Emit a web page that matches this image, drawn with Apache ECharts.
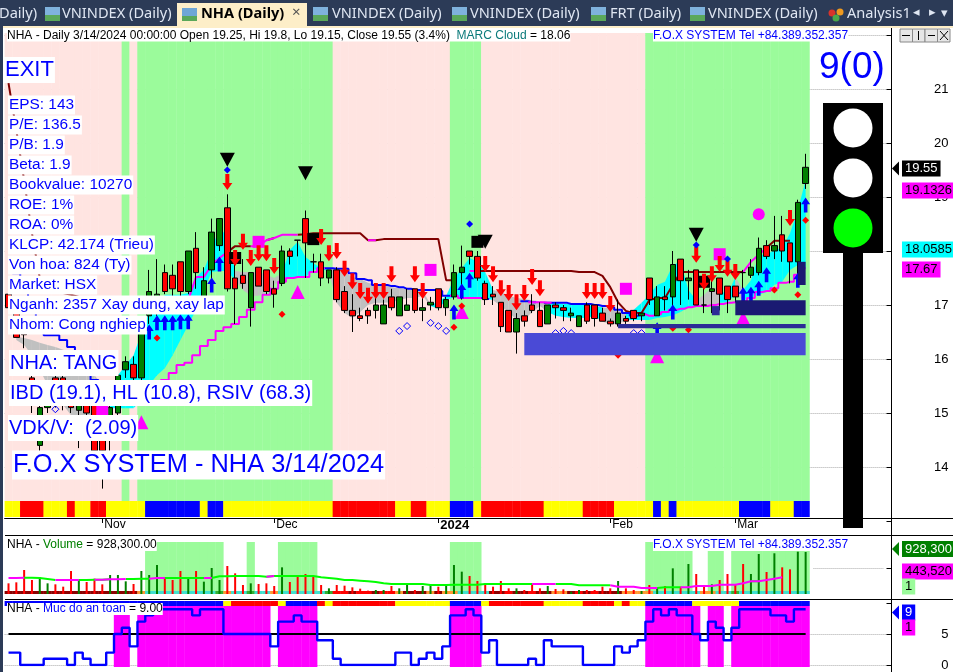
<!DOCTYPE html>
<html>
<head>
<meta charset="utf-8">
<title>NHA (Daily)</title>
<script src="https://cdn.jsdelivr.net/npm/echarts@6/dist/echarts.min.js"></script>
<style>
  html, body { margin: 0; padding: 0; background: #fff; }
  #chart { width: 953px; height: 672px; }
</style>
</head>
<body>
<div id="chart"></div>
<script>
const dates = [
  '2023-10-16', '2023-10-17', '2023-10-18', '2023-10-19', '2023-10-20', '2023-10-23', '2023-10-24', '2023-10-25', '2023-10-26', '2023-10-27', '2023-10-30', '2023-10-31',
  '2023-11-01', '2023-11-02', '2023-11-03', '2023-11-06', '2023-11-07', '2023-11-08', '2023-11-09', '2023-11-10', '2023-11-13', '2023-11-14', '2023-11-15', '2023-11-16', '2023-11-17', '2023-11-20', '2023-11-21', '2023-11-22', '2023-11-23', '2023-11-24', '2023-11-27', '2023-11-28', '2023-11-29', '2023-11-30',
  '2023-12-01', '2023-12-04', '2023-12-05', '2023-12-06', '2023-12-07', '2023-12-08', '2023-12-11', '2023-12-12', '2023-12-13', '2023-12-14', '2023-12-15', '2023-12-18', '2023-12-19', '2023-12-20', '2023-12-21', '2023-12-22', '2023-12-25', '2023-12-26', '2023-12-27', '2023-12-28', '2023-12-29',
  '2024-01-02', '2024-01-03', '2024-01-04', '2024-01-05', '2024-01-08', '2024-01-09', '2024-01-10', '2024-01-11', '2024-01-12', '2024-01-15', '2024-01-16', '2024-01-17', '2024-01-18', '2024-01-19', '2024-01-22', '2024-01-23', '2024-01-24', '2024-01-25', '2024-01-26', '2024-01-29', '2024-01-30', '2024-01-31',
  '2024-02-01', '2024-02-02', '2024-02-05', '2024-02-06', '2024-02-07', '2024-02-15', '2024-02-16', '2024-02-19', '2024-02-20', '2024-02-21', '2024-02-22', '2024-02-23', '2024-02-26', '2024-02-27', '2024-02-28', '2024-02-29',
  '2024-03-01', '2024-03-04', '2024-03-05', '2024-03-06', '2024-03-07', '2024-03-08', '2024-03-11', '2024-03-12', '2024-03-13', '2024-03-14',
];
const blankBars = ['', '', '', '', '', '', '', '', '', ''];
const monthLabels = {
  '2023-11-01': 'Nov', '2023-12-01': 'Dec', '2024-01-02': '{b|2024}', '2024-02-01': 'Feb', '2024-03-01': 'Mar',
};

// open, close, low, high
const candles = [
  [17.2, 16.95, 16.9, 17.4], [16.85, 16.4, 16.4, 17], [16.5, 16.45, 16.2, 16.55], [15.65, 15.2, 15, 15.7], [14.4, 15.1, 14.3, 15.6],
  [15.1, 15.15, 15, 15.4], [15.65, 15.2, 15.1, 15.7], [15.65, 15.25, 15.05, 15.7], [15.2, 15.1, 15, 15.6], [15.05, 15.2, 14.35, 15.5],
  [15.5, 15, 14.95, 15.55], [15.4, 14.3, 14.3, 15.45], [15.1, 14.3, 13.6, 15.15], [14.9, 15.1, 14.3, 15.2], [15, 15.7, 14.9, 15.75],
  [15.8, 15.95, 15.65, 16.05], [15.9, 15.65, 15.5, 16.05], [15.65, 16.5, 15.55, 16.55], [16.8, 17.25, 16.65, 17.65], [16.9, 17.2, 16.8, 17.85],
  [17.6, 17.25, 17.2, 17.75], [17.55, 17.3, 17.15, 17.75], [17.8, 17.25, 17.15, 17.8], [17.25, 18, 17.2, 18], [18.05, 17.6, 17.3, 18.35],
  [17.15, 17.45, 17.1, 17.7], [17.65, 18.35, 17.45, 18.6], [18.1, 18.6, 18, 18.6], [18.8, 17.3, 17.25, 19.05], [17.5, 17.3, 16.65, 18],
  [17.55, 17.4, 17.3, 17.85], [16.95, 17.6, 16.6, 17.6], [17.7, 17.35, 17.35, 17.7], [17.65, 17.25, 17.2, 17.65], [17.3, 17.2, 16.95, 17.45],
  [17.4, 18, 17.35, 18.1], [18, 17.9, 17.75, 18.05], [18.2, 18.2, 17.9, 18.2], [18.6, 18.15, 17.5, 18.75], [17.8, 17.8, 17.6, 17.95],
  [17.8, 17.5, 17.35, 17.95], [17.5, 17.65, 17.4, 17.65], [17.65, 17.1, 17.05, 17.7], [17.25, 16.9, 16.85, 17.35], [16.9, 16.8, 16.5, 17.2],
  [16.8, 16.75, 16.7, 16.95], [16.9, 16.8, 16.65, 16.95], [16.9, 17, 16.75, 17.2], [16.65, 17, 16.65, 17.1], [17.15, 16.95, 16.9, 17.3],
  [16.8, 17.15, 16.8, 17.15], [16.9, 17, 16.9, 17.3], [17.3, 16.9, 16.85, 17.3], [16.9, 16.95, 16.7, 17.15], [17, 17.05, 16.9, 17.15],
  [17.3, 16.95, 16.9, 17.3], [16.95, 17.1, 16.8, 17.15], [17.15, 17.6, 17.1, 17.75], [17.6, 17.7, 17.1, 18.1], [18, 17.9, 17.75, 18],
  [17.9, 17.5, 17.45, 18], [17.4, 17.1, 17, 17.45], [17.2, 17.15, 17, 17.35], [17.05, 16.6, 16.5, 17.05], [16.9, 16.5, 16.5, 16.9],
  [16.5, 16.75, 16.1, 16.85], [16.8, 16.7, 16.6, 16.9], [17, 16.9, 16.85, 17.2], [16.9, 16.6, 16.6, 17.05], [16.65, 17, 16.65, 17],
  [17, 16.95, 16.75, 17.05], [16.95, 16.9, 16.7, 17], [16.8, 16.85, 16.7, 16.95], [16.6, 16.8, 16.6, 16.8], [17, 16.7, 16.65, 17.05],
  [17, 16.75, 16.6, 17], [16.85, 16.7, 16.7, 16.95], [16.7, 16.65, 16.6, 16.75], [16.65, 16.85, 16.6, 17.1], [16.75, 16.7, 16.65, 16.8],
  [16.9, 16.75, 16.7, 16.9], [16.8, 16.85, 16.7, 16.85], [17.5, 17.1, 17, 17.5], [16.8, 17.15, 16.8, 17.35], [17.15, 17.1, 16.9, 17.35],
  [17.15, 17.75, 16.9, 18], [17.85, 17.45, 17, 17.85], [17.45, 17.5, 17.1, 17.65], [17.65, 17, 17, 17.65], [17, 17, 16.85, 17.5],
  [17.25, 17.3, 16.85, 17.45], [17.5, 17.2, 16.9, 17.5], [17.35, 17.1, 16.85, 17.35], [17.35, 17.15, 17.05, 17.35], [17.6, 17.6, 17.05, 17.65],
  [17.55, 17.7, 17.5, 17.85], [17.6, 18.05, 17.55, 18.25], [18.1, 17.9, 17.85, 18.2], [18, 18.1, 17.85, 18.65], [18.3, 18, 17.8, 18.65],
  [18.15, 17.8, 17.4, 18.15], [17.8, 18.9, 17.4, 18.95], [19.25, 19.55, 19.15, 19.8],
];

const volumes = [
  235800, 257800, 530400, 309400, 368400, 235800, 213600, 162000, 508300, 324100,
  265200, 338900, 213600, 419900, 419900, 279900, 221000, 508300, 419900, 640900,
  368400, 309400, 508300, 368400, 508300, 272600, 574600, 309400, 618800, 456800,
  198900, 235800, 221000, 235800, 176800, 589400, 265200, 419900, 442000, 397800,
  198900, 125200, 198900, 184200, 147300, 117900, 73700, 88400, 88400, 176800,
  125200, 198900, 88400, 176800, 198900, 162100, 198900, 640900, 493600, 397800,
  287300, 235800, 162100, 287300, 125200, 125200, 88400, 235800, 125200, 176800,
  110500, 103100, 51600, 88400, 88400, 88400, 162100, 125200, 287300, 125200,
  88400, 66300, 198900, 140000, 176800, 567300, 162100, 663000, 442000, 162100,
  213600, 309400, 442000, 221000, 663000, 442000, 884000, 486200, 900000, 589400,
  545200, 935000, 928300,
];
const volumeAverage = [
  353600, 353600, 361000, 361000, 353600, 331500, 309400, 309400, 309400, 309400,
  309400, 316800, 316800, 324100, 324100, 331500, 331500, 338900, 338900, 353600,
  353600, 353600, 353600, 353600, 353600, 353600, 353600, 390500, 390500, 397800,
  397800, 397800, 397800, 383100, 397800, 397800, 397800, 397800, 397800, 397800,
  368400, 353600, 338900, 309400, 309400, 294700, 279900, 265200, 235700, 221000,
  221000, 221000, 221000, 221000, 198900, 198900, 198900, 206300, 206300, 206300,
  206300, 221000, 221000, 221000, 221000, 221000, 221000, 221000, 221000, 221000,
  221000, 221000, 221000, 191500, 191500, 191500, 191500, 191500, 162100, 162100,
  162100, 132600, 132600, 132600, 147300, 147300, 147300, 147300, 176800, 176800,
  176800, 206300, 206300, 206300, 235700, 279900, 279900, 309400, 338900, 368400,
  397800, 442000, 443520,
];

const safetyLevel = [
  2, 2, 0, 0, 0, 1, 1, 1, 0, 2,
  1, 0, 0, 2, 5, 6, 3, 7, 8, 9,
  9, 9, 9, 9, 8, 9, 9, 9, 5, 5,
  5, 5, 5, 5, 3, 7, 7, 8, 7, 7,
  4, 4, 1, 0, 0, 0, 0, 0, 0, 0,
  2, 2, 0, 1, 2, 1, 3, 8, 8, 9,
  8, 2, 4, 0, 0, 0, 0, 1, 0, 4,
  3, 3, 3, 3, 0, 0, 0, 0, 3, 2,
  3, 4, 7, 9, 8, 9, 8, 8, 5, 4,
  7, 6, 4, 6, 9, 9, 9, 9, 8, 8,
  7, 9, 9,
];
const safetyThreshold = dates.map(() => 5);

const trailLine = [
  21.11, 20.24, 19.31, 18.33, 17.5, 17.37, 17.28, 17.22, 17.19, 17.15,
  17.09, 17.05, 17, 16.96, 16.91, 16.87, 16.85, 16.85, 16.91, 16.94,
  16.98, 17.02, 17.05, 17.09, 17.52, 17.52, 17.74, 17.87, 17.98, 18.09,
  18.09, 18.09, 18.09, 18.2, 18.24, 18.3, 18.3, 18.3, 18.31, 18.33,
  18.33, 18.33, 18.33, 18.33, 18.33, 18.33, 18.2, 18.2, 18.22, 18.22,
  18.22, 18.22, 18.22, 18.22, 18.22, 18.22, 17.46, 17.46, 17.63, 17.63,
  17.63, 17.63, 17.63, 17.63, 17.63, 17.63, 17.63, 17.63, 17.63, 17.63,
  17.63, 17.63, 17.63, 17.61, 17.61, 17.61, 17.54, 17.33, 17.05, 16.89,
  16.85, 16.85, 17.09, 17.13, 17.13, 17.37, 17.61, 17.61, 17.61, 17.61,
  17.61, 17.61, 17.61, 17.61, 17.61, 17.8, 17.93, 18.06, 18.19, 18.19,
  18.19, null, null,
];
const trailCodes = 'D'.repeat(24) + 'MMMMM' + 'DDD' + 'MM' + 'D' + 'MMM' + 'D'.repeat(9) + 'M' + 'D'.repeat(10) + '  M' + 'D'.repeat(34) + 'MMM' + 'DDD  ';
const bandLine = [
  17.87, 17.59, 17.22, 16.85, 16.54, 16.44, 16.44, 16.35, 16.22, 15.98,
  15.8, 15.61, 15.43, 15.33, 15.28, 15.28, 15.33, 15.39, 15.43, 15.46,
  15.61, 15.74, 15.89, 15.93, 16.07, 16.24, 16.35, 16.52, 16.59, 16.65,
  16.78, 16.91, 17.05, 17.19, 17.3, 17.43, 17.5, 17.52, 17.52, 17.61,
  17.68, 17.68, 17.67, 17.67, 17.59, 17.48, 17.46, 17.37, 17.37, 17.35,
  17.33, 17.3, 17.28, 17.28, 17.28, 17.26, 17.17, 17.17, 17.13, 17.13,
  17.13, 17.11, 17.09, 17.09, 17.09, 17.07, 17.07, 17.05, 17.05, 17.04,
  17.04, 17.04, 17.02, 17.02, 17.02, 17, 16.98, 16.96, 16.91, 16.85,
  16.8, 16.83, 16.8, 16.83, 16.87, 16.91, 16.93, 16.96, 16.98, 16.98,
  17, 17.02, 17.04, 17.05, 17.07, 17.13, 17.24, 17.26, 17.31, 17.41,
  17.43, 17.56, 17.68,
];
const bandCodes = 'B'.repeat(14) + 'M'.repeat(27) + 'B'.repeat(17) + 'MMM' + 'B' + '     ' + 'B' + 'MM' + 'B'.repeat(12) + 'M'.repeat(21);
const volumeAverageCodes = 'G' + 'MM' + 'GGGG' + 'MMM' + 'GG' + 'M' + 'G' + 'MM' + 'GGG' + 'MM' + 'G'.repeat(5) + 'M' + 'G'.repeat(7) + 'M' + 'G'.repeat(33) + 'MMM' + 'G'.repeat(7) + 'MMMMMM' + 'GGG' + 'M'.repeat(9) + 'G' + 'M'.repeat(3);

// upper and lower edge of the cloud, null where there is none
const cloudHigh = [
  null, 16.41, 16.39, 16.35, 16.3, 16.26, 16.22, 16.17, 16.13, 15.98,
  15.89, 15.7, 15.52, 15.24, 15.7, 15.89, 16.07, 16.48, 16.87, 16.87,
  17.19, 17.19, 17.19, 17.22, 17.52, 17.65, 18.02, 18.44, 18.26, 17.63,
  17.61, 17.61, 17.61, 17.56, 17.5, 17.59, 18.02, 18.17, 17.89, 17.78,
  17.68, 17.68, 17.65, 17.61, 17.52, 17.48, 17.41, 17.37, 17.37, 17.33,
  17.31, 17.3, 17.28, 17.26, 17.02, 17.04, 17.17, 17.48, 17.68, 17.87,
  17.8, 17.61, 17.28, 17.24, 17.17, 17.13, 17.11, 17.09, 17.07, 17.04,
  17.04, 17.02, 17.02, 17, 17, 16.98, 16.96, 16.94, 16.91, 16.87,
  16.91, 17.04, 17.19, 17.37, 17.43, 17.74, 17.8, 17.28, 17.09, 17.19,
  17.33, 17.28, 17.19, 17.52, 17.28, 17.46, 17.93, 17.93, 18.02, 18.06,
  18.33, 18.76, 19.31,
];
const cloudLow = [
  null, 16.35, 16.26, 16.07, 15.8, 15.52, 15.33, 15.15, 14.96, 14.87,
  14.87, 14.96, 15.06, 15.09, 15.09, 15.09, 15.09, 15.24, 15.52, 15.7,
  15.83, 16.07, 16.35, 16.63, 16.91, 17.28, 17.61, 17.63, 17.63, 17.46,
  17.28, 17.17, 17.17, 17.24, 17.37, 17.5, 17.52, 17.52, 17.52, 17.65,
  17.68, 17.61, 17.04, 16.85, 16.76, 16.87, 17, 17.04, 17.04, 17.05,
  17.09, 17.13, 17.13, 17.17, 16.98, 16.93, 17.09, 17.15, 17.15, 17.15,
  17.13, 17.13, 17.09, 16.98, 16.87, 16.72, 16.72, 16.87, 16.98, 16.87,
  16.8, 16.78, 16.76, 16.76, 16.76, 16.8, 16.69, 16.65, 16.65, 16.72,
  16.72, 16.72, 16.72, 16.76, 16.78, 16.81, 16.87, 16.96, 16.98, 16.98,
  17, 17.04, 17.05, 17.19, 17.09, 17.13, 17.19, 17.24, 17.37, 17.43,
  17.65, 17.74, 17.68,
];
const cloudCodes = ' ' + 'G'.repeat(12) + 'C'.repeat(16) + 'G'.repeat(6) + 'C'.repeat(6) + 'G'.repeat(13) + 'C'.repeat(8) + 'G'.repeat(7) + 'C'.repeat(7) + 'GGG' + 'C'.repeat(9) + 'GGG' + 'CC' + 'G' + 'C'.repeat(9);

const zoneCodes = 'P'.repeat(15) + 'G' + 'P' + 'G'.repeat(25) + 'P'.repeat(15) + 'G'.repeat(4) + 'P'.repeat(21) + 'G'.repeat(21);
const ribbonCodes = ['YY', 'RRR', 'YYY', 'R', 'YY', 'RR', 'YYYYY', 'BBBBBBB', 'Y', 'BB', 'YYYYYYYYYYYYYY', 'RRRRRRRR', 'YY', 'RR', 'YYY', 'BBB', 'Y', 'RRRRRRRR', 'YYYYY', 'RRRR', 'YYYYY', 'B', 'Y', 'B', 'YYYYYYYY', 'BBBB', 'YYY', 'BB'].join('');
const volumeZoneCodes = ' '.repeat(18) + 'G'.repeat(10) + '   ' + 'G' + '   ' + 'G'.repeat(5) + ' '.repeat(17) + 'G'.repeat(4) + ' '.repeat(21) + 'G'.repeat(6) + '  ' + 'GG' + ' ' + 'G'.repeat(10);
const volumeStripCodes = 'D'.repeat(17) + 'O' + 'T'.repeat(9) + 'GOTTGTTO' + 'TTTTT' + 'TG' + 'RRDRRDRR' + 'ODDDODOO' + 'TTTT' + 'DDRDDRDD' + 'OO' + 'DRDRDDD' + 'OOOO' + 'TTTTTT' + 'OOTTG' + 'T'.repeat(9);
const safetyZoneCodes = ' '.repeat(14) + 'MM' + ' ' + 'M'.repeat(17) + ' ' + 'M'.repeat(5) + ' '.repeat(17) + 'M'.repeat(4) + ' '.repeat(21) + 'M'.repeat(7) + ' ' + 'MM' + ' ' + 'M'.repeat(10);
const safetyRibbonCodes = ['B'.repeat(28), 'Y', 'RRRRRR', 'Y', 'BBBB', 'R', 'Y', 'RRRRRRRR', 'YYYYYYY', 'BBBB', 'Y', 'RRRRRRR', 'YYYYY', 'RRRR', 'Y', 'R', 'YY', 'BBBBBB', 'YYYYYY', 'B'.repeat(9)].join('');

// bar index, price
const blackTriangles = [[28, 19.69], [38, 19.44], [61, 18.17], [88, 18.3]];
const blackSquares = [[29, 17.87], [39, 18.22], [60, 18.17], [89, 17.43]];
const magentaSquares = [[12, 15.05], [32, 18.17], [54, 17.65], [79, 17.3], [91, 17.94]];
const magentaTriangles = [[17, 14.83], [37, 17.24], [58, 16.87], [83, 16.05], [94, 16.76]];
const magentaCircles = [[96, 18.68]];
const sellArrows = [
  [28, 19.28], [29, 17.87], [30, 18.17], [31, 17.87], [32, 17.96], [33, 17.96], [34, 17.72], [40, 18.26], [41, 17.96], [42, 18],
  [43, 17.67], [44, 17.44], [45, 17.26], [46, 17.17], [47, 17.26], [48, 17.26], [49, 17.57], [52, 17.57], [53, 17.26], [61, 17.76],
  [62, 17.57], [63, 17.31], [64, 17.22], [65, 17.05], [66, 17.22], [67, 17.52], [68, 17.31], [74, 17.26], [75, 17.26], [76, 17.26],
  [77, 17.02], [88, 17.93], [89, 17.43], [90, 17.57], [91, 17.76], [92, 17.67], [93, 17.61], [100, 18.61],
];
const buyArrows = [
  [18, 16.5], [19, 16.67], [20, 16.67], [21, 16.67], [22, 16.69], [23, 16.69], [26, 17.37], [27, 17.76], [57, 16.87], [58, 17.26],
  [59, 17.46], [83, 16.54], [85, 16.87], [94, 17.19], [95, 17.2], [96, 17.31], [97, 17.56], [101, 17.46], [102, 18.85],
];
const blueDots = [[28, 19.5], [59, 18.5], [88, 18.11], [92, 17.85]];
const redDots = [[19, 16.39], [35, 16.83], [57, 16.59], [58, 16.98], [78, 16.07], [85, 16.57], [87, 16.54], [98, 17.28], [101, 17.19], [102, 18.57]];
const hollowDots = [[6, 15.07], [50, 16.52], [51, 16.61], [54, 16.67], [55, 16.61], [56, 16.52], [70, 16.48], [71, 16.52], [72, 16.48], [80, 16.48], [81, 16.48]];

// first bar, last bar, top price, bottom price
const supplyBoxes = [[66, 102, 16.48, 16.07], [78, 102, 16.65, 16.57], [93, 102, 17.09, 16.81], [90, 91, 16.98, 16.81], [101, 102, 17.8, 17.37]];
const supplyBoxColors = ['#4a4ad6', '#2c2c96', '#1a1a72', '#2c2c96', '#1a1a72'];

const infoLines = ['EPS: 143', 'P/E: 136.5', 'P/B: 1.9', 'Beta: 1.9', 'Bookvalue: 10270', 'ROE: 1%', 'ROA: 0%', 'KLCP: 42.174 (Trieu)', 'Von hoa: 824 (Ty)', 'Market: HSX', 'Nganh: 2357 Xay dung, xay lap', 'Nhom: Cong nghiep'];
const tabTitles = [[62, 'VNINDEX (Daily)'], [332, 'VNINDEX (Daily)'], [470, 'VNINDEX (Daily)'], [610, 'FRT (Daily)'], [708, 'VNINDEX (Daily)']];
const tabIcons = [45, 313, 452, 591, 690];

const FONT = '"Liberation Sans", Arial, sans-serif';
const GRID_LEFT = 4.6;
const GRID_WIDTH = 883.1;
const AXIS_OFFSET = 3.8;
const categories = dates.concat(blankBars);

function pick(values, codes, code) {
  return values.map((value, i) => ((codes[i] === code || codes[i + 1] === code) ? value : null));
}

function buildGrid(top, height) {
  return {
    left: GRID_LEFT, top, width: GRID_WIDTH, height,
  };
}

function hiddenX(gridIndex) {
  return {
    type: 'category', gridIndex, data: categories, show: false,
  };
}

function hiddenY(gridIndex) {
  return {
    type: 'value', gridIndex, min: 0, max: 1, show: false,
  };
}

function stripSeries(axisIndex, codes, palette) {
  return {
    type: 'bar',
    xAxisIndex: axisIndex,
    yAxisIndex: axisIndex,
    barWidth: 8.2,
    silent: true,
    z: 1,
    data: codes.split('').map((code) => ({
      value: code === ' ' ? null : 1,
      itemStyle: { color: palette[code] },
    })),
  };
}

function lineSeries(axisIndex, data, color, width, z, step) {
  return {
    type: 'line',
    xAxisIndex: axisIndex,
    yAxisIndex: axisIndex,
    data,
    step: step ? 'middle' : false,
    symbol: 'none',
    silent: true,
    z,
    lineStyle: { color, width },
  };
}

function markerSeries(data, symbol, size, color, extra) {
  return {
    type: 'scatter',
    xAxisIndex: 2,
    yAxisIndex: 2,
    data,
    symbol,
    symbolSize: size,
    silent: true,
    z: 7,
    itemStyle: { color, opacity: 1 },
    ...extra,
  };
}

function renderCloud(params, api) {
  const i = params.dataIndex;
  if (cloudHigh[i] === null || cloudHigh[i + 1] === undefined || cloudHigh[i + 1] === null) {
    return null;
  }
  const points = [
    api.coord([i, cloudHigh[i]]),
    api.coord([i + 1, cloudHigh[i + 1]]),
    api.coord([i + 1, cloudLow[i + 1]]),
    api.coord([i, cloudLow[i]]),
  ];
  return {
    type: 'polygon',
    shape: { points },
    style: { fill: cloudCodes[i] === 'C' ? '#00ffff' : '#c0c0c0' },
  };
}

function renderBox(params, api) {
  const topLeft = api.coord([api.value(0), api.value(2)]);
  const bottomRight = api.coord([api.value(1), api.value(3)]);
  return {
    type: 'rect',
    shape: {
      x: topLeft[0],
      y: topLeft[1],
      width: bottomRight[0] - topLeft[0],
      height: bottomRight[1] - topLeft[1],
    },
    style: { fill: supplyBoxColors[params.dataIndex] },
  };
}

function textItem(text, x, y, font, fill, extra) {
  return {
    type: 'text',
    z: 100,
    silent: true,
    style: {
      text, x, y, font, fill, verticalAlign: 'middle', ...extra,
    },
  };
}

function whiteLabel(text, x, y, size, pad) {
  return textItem(text, x, y, `${size}px ${FONT}`, '#0000ff', { backgroundColor: '#fff', padding: [pad, 1, pad, 1] });
}

function tag(text, x, y, background, fill, arrow) {
  const items = [textItem(text, x + 3, y, `13px ${FONT}`, fill, { backgroundColor: background, padding: [2, 3, 1, 3] })];
  if (arrow) {
    items.push({
      type: 'polygon',
      z: 100,
      silent: true,
      shape: { points: [[x - 7, y], [x, y - 7], [x, y + 7]] },
      style: { fill: background },
    });
  }
  return items;
}

function rectItem(x, y, width, height, fill, z) {
  return {
    type: 'rect', z: z || 100, silent: true, shape: { x, y, width, height }, style: { fill },
  };
}

function lineItem(x1, y1, x2, y2) {
  return {
    type: 'line',
    z: 50,
    silent: true,
    shape: { x1, y1, x2, y2 },
    style: { stroke: '#000', lineWidth: 1 },
  };
}

function circleItem(cx, cy, fill) {
  return {
    type: 'circle', z: 101, silent: true, shape: { cx, cy, r: 19.5 }, style: { fill },
  };
}

function buildTabBar() {
  const items = [
    rectItem(0, 0, 953, 26, '#2c3b57', 90),
    rectItem(0, 26, 953, 2, '#fdeec8', 90),
    rectItem(0, 26, 3, 646, '#2c3b57', 90),
    rectItem(177, 3, 130, 25, '#fdeec8', 91),
    textItem('Daily)', -1, 14, '14.6px "Noto Sans"', '#dfe6f2'),
    textItem('NHA (Daily)', 201, 14, 'bold 14.6px "Noto Sans"', '#000'),
    textItem('×', 292, 13, '15px "Noto Sans"', '#555'),
    textItem('Analysis1', 847, 14, '14.6px "Noto Sans"', '#dfe6f2'),
    textItem('◂', 913, 13, '13px "DejaVu Sans"', '#dfe6f2'),
    textItem('▸', 929, 13, '13px "DejaVu Sans"', '#dfe6f2'),
    textItem('▾', 941, 14, '13px "DejaVu Sans"', '#dfe6f2'),
    rectItem(182, 8, 15, 13, '#6fa6d6', 101),
    rectItem(182, 16, 15, 5, '#5aa85a', 102),
    {
      type: 'circle', z: 101, silent: true, shape: { cx: 832, cy: 13, r: 3.5 }, style: { fill: '#d9342b' },
    },
    {
      type: 'circle', z: 101, silent: true, shape: { cx: 840, cy: 12, r: 3.5 }, style: { fill: '#f09a1f' },
    },
    {
      type: 'circle', z: 101, silent: true, shape: { cx: 836, cy: 18, r: 3.5 }, style: { fill: '#4aa84a' },
    },
  ];
  tabTitles.forEach(([x, title]) => {
    items.push(textItem(title, x, 14, '14.6px "Noto Sans"', '#dfe6f2'));
  });
  tabIcons.forEach((x) => {
    items.push(rectItem(x, 7, 15, 14, '#7fb2dd', 101));
    items.push(rectItem(x, 15, 15, 6, '#5aa85a', 102));
  });
  return items;
}

function buildWindowButtons() {
  const items = [];
  [900, 912.5, 925, 937.5].forEach((x) => {
    items.push({
      type: 'rect',
      z: 100,
      silent: true,
      shape: {
        x, y: 29, width: 12.5, height: 13,
      },
      style: { fill: '#e6e6e6', stroke: '#888', lineWidth: 1 },
    });
  });
  items.push(lineItem(902, 35.5, 910, 35.5));
  items.push(lineItem(918.5, 31, 918.5, 40));
  items.push(lineItem(928, 35.5, 935, 35.5));
  items.push(lineItem(940, 31, 948, 40));
  items.push(lineItem(948, 31, 940, 40));
  items.slice(-5).forEach((item) => { item.z = 101; });
  return items;
}

function buildGraphics() {
  const infoItems = infoLines.map((text, i) => whiteLabel(text, 8, 105 + i * 20, 15.4, 2));
  return [
    lineItem(5, 518.5, 953, 518.5),
    lineItem(5, 535.5, 953, 535.5),
    lineItem(5, 599.5, 953, 599.5),
    lineItem(891.5, 28, 891.5, 672),
    ...buildTabBar(),
    ...buildWindowButtons(),
    {
      type: 'text',
      z: 100,
      silent: true,
      style: {
        x: 7,
        y: 35.5,
        verticalAlign: 'middle',
        backgroundColor: '#fff',
        text: '{a|NHA - Daily 3/14/2024 00:00:00 Open 19.25, Hi 19.8, Lo 19.15, Close 19.55 (3.4%)}  {b|MARC Cloud} {a|= 18.06}',
        rich: {
          a: { font: `12px ${FONT}`, fill: '#000' },
          b: { font: `12px ${FONT}`, fill: '#0a7a7a' },
        },
      },
    },
    textItem('F.O.X SYSTEM Tel +84.389.352.357', 653, 35.5, `12px ${FONT}`, '#0000ff', { backgroundColor: '#fff' }),
    whiteLabel('EXIT', 4, 70, 22, 2),
    ...infoItems,
    whiteLabel('NHA: TANG', 9, 363, 20, 3),
    whiteLabel('IBD (19.1), HL (10.8), RSIV (68.3)', 9, 393, 20, 3),
    whiteLabel('VDK/V:  (2.09)', 8, 428, 20, 3),
    whiteLabel('F.O.X SYSTEM - NHA 3/14/2024', 12, 465, 25.4, 2),
    textItem('9(0)', 819, 68, `37px ${FONT}`, '#0000ff'),
    rectItem(823, 103, 60, 150, '#000'),
    rectItem(843, 253, 20, 275, '#000'),
    circleItem(853, 128, '#fff'),
    circleItem(853, 178, '#fff'),
    circleItem(853, 228, '#00ff00'),
    ...tag('19.55', 899, 168.5, '#000', '#fff', true),
    ...tag('19.1326', 899, 190.5, '#ff00ff', '#000'),
    ...tag('18.0585', 899, 249.5, '#00ffff', '#000'),
    ...tag('17.67', 899, 269.5, '#ff00ff', '#000'),
    ...tag('928,300', 899, 549, '#008000', '#fff', true),
    ...tag('443,520', 899, 571.5, '#ff00ff', '#000'),
    ...tag('1', 899, 586.5, '#9bfb9b', '#000'),
    ...tag('9', 899, 612.5, '#0000ff', '#fff', true),
    ...tag('1', 899, 627.5, '#ff00ff', '#000'),
    {
      type: 'text',
      z: 100,
      silent: true,
      style: {
        x: 7,
        y: 545,
        verticalAlign: 'middle',
        backgroundColor: '#fff',
        text: '{a|NHA - }{g|Volume}{a| = 928,300.00}',
        rich: {
          a: { font: `12px ${FONT}`, fill: '#000' },
          g: { font: `12px ${FONT}`, fill: '#008000' },
        },
      },
    },
    textItem('F.O.X SYSTEM Tel +84.389.352.357', 653, 545, `12px ${FONT}`, '#0000ff', { backgroundColor: '#fff' }),
    {
      type: 'text',
      z: 100,
      silent: true,
      style: {
        x: 7,
        y: 609,
        verticalAlign: 'middle',
        backgroundColor: '#fff',
        text: '{a|NHA - }{g|Muc do an toan}{a| = 9.00}',
        rich: {
          a: { font: `12px ${FONT}`, fill: '#000' },
          g: { font: `12px ${FONT}`, fill: '#0000ff' },
        },
      },
    },
  ];
}

const zonePalette = { P: '#ffe4e1', G: '#9bfb9b' };
const ribbonPalette = { Y: '#ffff00', R: '#ff0000', B: '#0000ff' };
const stripPalette = {
  D: '#8b0000', O: '#ff9933', T: '#40e0d0', G: '#33b033', R: '#ff0000',
};
const dottedSplit = { show: true, lineStyle: { color: '#aaa', type: 'dotted', width: 1 } };

const option = {
  animation: false,
  backgroundColor: '#fff',
  grid: [
    buildGrid(33, 468),
    buildGrid(501, 17),
    buildGrid(35, 486),
    buildGrid(542, 52),
    buildGrid(536, 58),
    buildGrid(591, 3),
    buildGrid(601, 5),
    buildGrid(606, 61),
    buildGrid(603, 62),
  ],
  xAxis: [
    hiddenX(0),
    {
      type: 'category',
      gridIndex: 1,
      data: categories,
      z: 60,
      axisLine: { show: true, onZero: false, lineStyle: { color: '#000' } },
      axisTick: {
        show: true,
        alignWithLabel: true,
        length: 5,
        lineStyle: { color: '#000' },
        interval: (index, value) => Boolean(monthLabels[value]),
      },
      axisLabel: {
        interval: (index, value) => Boolean(monthLabels[value]),
        formatter: (value) => monthLabels[value],
        align: 'left',
        margin: 1,
        padding: [0, 0, 0, 2],
        color: '#000',
        fontFamily: FONT,
        fontSize: 12,
        rich: { b: { fontWeight: 'bold', fontFamily: FONT, fontSize: 13, color: '#000' } },
      },
    },
    hiddenX(2), hiddenX(3), hiddenX(4), hiddenX(5), hiddenX(6), hiddenX(7), hiddenX(8),
  ],
  yAxis: [
    hiddenY(0),
    {
      type: 'value', gridIndex: 1, min: -0.06, max: 1, show: false,
    },
    {
      type: 'value',
      gridIndex: 2,
      position: 'right',
      offset: AXIS_OFFSET,
      min: 13,
      max: 22,
      interval: 1,
      axisLine: { show: false },
      axisTick: { show: true, inside: true, length: 5, lineStyle: { color: '#000' } },
      axisLabel: {
        align: 'right',
        margin: 57,
        color: '#000',
        fontFamily: FONT,
        fontSize: 13,
        formatter: (value) => ((value === 13 || value === 22) ? '' : String(value)),
      },
      splitLine: { ...dottedSplit, showMinLine: false },
    },
    hiddenY(3),
    {
      type: 'value',
      gridIndex: 4,
      position: 'right',
      offset: AXIS_OFFSET,
      min: 0,
      max: 1282000,
      axisLine: { show: false },
      axisLabel: { show: false },
      axisTick: {
        show: true, inside: true, length: 5, customValues: [570000], lineStyle: { color: '#000' },
      },
      splitLine: { show: false },
    },
    hiddenY(5),
    hiddenY(6),
    hiddenY(7),
    {
      type: 'value',
      gridIndex: 8,
      position: 'right',
      offset: AXIS_OFFSET,
      min: 0,
      max: 10,
      interval: 5,
      axisLine: { show: false },
      axisTick: { show: true, inside: true, length: 5, lineStyle: { color: '#000' } },
      axisLabel: {
        align: 'right',
        margin: 57,
        color: '#000',
        fontFamily: FONT,
        fontSize: 13,
        formatter: (value) => (value === 10 ? '' : String(value)),
      },
      splitLine: { ...dottedSplit, showMaxLine: false },
    },
  ],
  graphic: { elements: buildGraphics() },
  series: [
    stripSeries(0, zoneCodes, zonePalette),
    stripSeries(1, ribbonCodes, ribbonPalette),
    stripSeries(3, volumeZoneCodes, zonePalette),
    stripSeries(6, safetyRibbonCodes, ribbonPalette),
    stripSeries(7, safetyZoneCodes, { M: '#ff00ff' }),
    {
      type: 'custom',
      xAxisIndex: 2,
      yAxisIndex: 2,
      data: cloudHigh.map((value, i) => [i, value === null ? 17 : value]),
      encode: { x: 0, y: 1 },
      renderItem: renderCloud,
      silent: true,
      z: 3,
    },
    lineSeries(2, pick(trailLine, trailCodes, 'D'), '#800000', 2, 4),
    lineSeries(2, pick(trailLine, trailCodes, 'M'), '#ff00ff', 2, 4),
    lineSeries(2, pick(bandLine, bandCodes, 'B'), '#0000ff', 2, 4, true),
    lineSeries(2, pick(bandLine, bandCodes, 'M'), '#ff00ff', 2, 4, true),
    {
      type: 'candlestick',
      xAxisIndex: 2,
      yAxisIndex: 2,
      data: candles,
      barWidth: 6,
      silent: true,
      z: 5,
      itemStyle: {
        color: '#008000',
        color0: '#ff0000',
        borderColor: '#000',
        borderColor0: '#000',
        borderColorDoji: '#000',
        borderWidth: 1,
      },
    },
    markerSeries(blackTriangles, 'triangle', [15, 14], '#000', { symbolRotate: 180 }),
    markerSeries(blackSquares, 'rect', 12, '#000'),
    markerSeries(magentaSquares, 'rect', 12, '#ff00ff'),
    markerSeries(magentaTriangles, 'triangle', [14, 14], '#ff00ff'),
    markerSeries(magentaCircles, 'circle', 12, '#ff00ff'),
    markerSeries(sellArrows, 'path://M3 0h4v9h3l-5 7l-5-7h3z', [10, 16], '#ff0000'),
    markerSeries(buyArrows, 'path://M3 16h4v-9h3l-5-7l-5 7h3z', [9, 15], '#0000ff'),
    markerSeries(blueDots, 'diamond', 7, '#0000ff'),
    markerSeries(redDots, 'diamond', 7, '#ff0000'),
    markerSeries(hollowDots, 'diamond', 7, 'transparent', {
      itemStyle: {
        color: 'transparent', borderColor: '#0000ff', borderWidth: 1, opacity: 1,
      },
    }),
    {
      type: 'custom',
      xAxisIndex: 2,
      yAxisIndex: 2,
      data: supplyBoxes,
      encode: { x: [0, 1], y: [2, 3] },
      renderItem: renderBox,
      silent: true,
      z: 8,
    },
    {
      type: 'bar',
      xAxisIndex: 4,
      yAxisIndex: 4,
      barWidth: 2,
      silent: true,
      z: 3,
      data: volumes.map((value, i) => ({
        value,
        itemStyle: { color: candles[i][1] > candles[i][0] ? '#008000' : '#ff0000' },
      })),
    },
    {
      ...lineSeries(4, pick(volumeAverage, volumeAverageCodes, 'G'), '#00ff00', 2, 4),
      markLine: {
        silent: true,
        symbol: 'none',
        label: { show: false },
        lineStyle: { color: '#aaa', type: 'dotted', width: 1 },
        data: [[{ coord: [103, 570000] }, { coord: [112, 570000] }]],
      },
    },
    lineSeries(4, pick(volumeAverage, volumeAverageCodes, 'M'), '#ff00ff', 2, 4),
    stripSeries(5, volumeStripCodes, stripPalette),
    lineSeries(8, safetyThreshold, '#000', 2, 4),
    lineSeries(8, safetyLevel, '#0000ff', 2.4, 5, true),
  ],
};

const chart = echarts.init(document.getElementById('chart'), null, { renderer: 'canvas' });
chart.setOption(option);
</script>
</body>
</html>
